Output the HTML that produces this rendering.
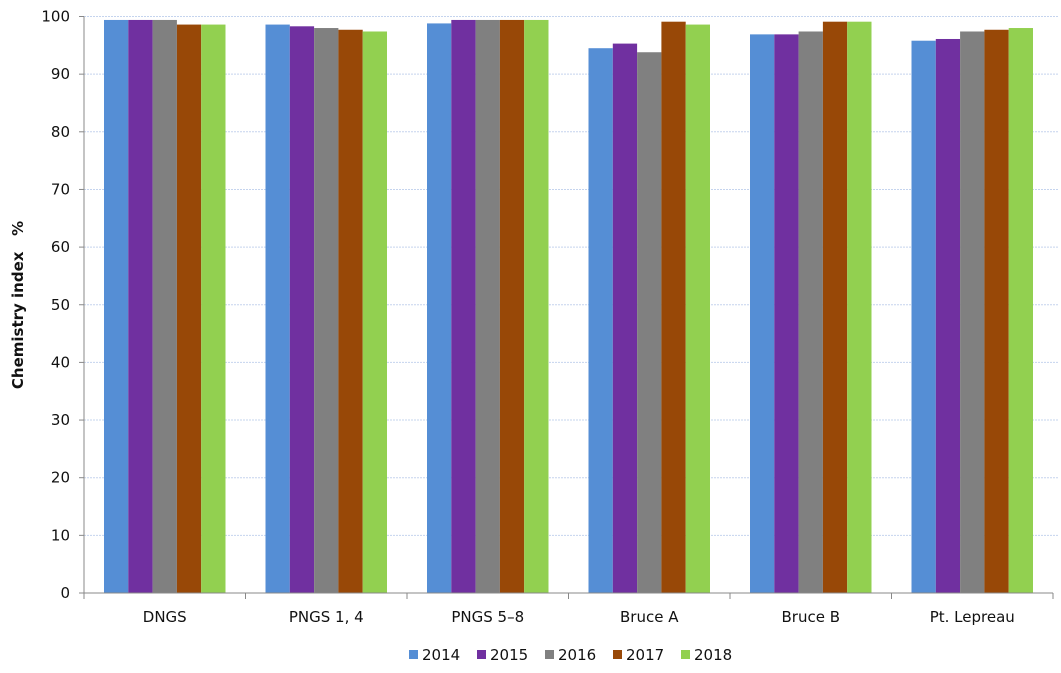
<!DOCTYPE html>
<html><head><meta charset="utf-8"><style>
body{margin:0;background:#fff;}
svg text{font-family:"DejaVu Sans","Liberation Sans",sans-serif;fill:#111;}
</style></head><body>
<svg width="1061" height="668" xmlns="http://www.w3.org/2000/svg">
<g id="grid"></g>
<g id="bars"></g>
<g id="axes"></g>
<text transform="translate(23,305) rotate(-90)" text-anchor="middle" font-size="15" font-weight="bold">Chemistry index&#160;&#160;&#160;%</text>
<g id="legend"></g>
</svg>
<script>
const categories=["DNGS","PNGS 1, 4","PNGS 5–8","Bruce A","Bruce B","Pt. Lepreau"];
const years=["2014","2015","2016","2017","2018"];
const s2014=[99.4,98.6,98.8,94.5,96.9,95.8];
const s2015=[99.4,98.3,99.4,95.3,96.9,96.1];
const s2016=[99.4,98.0,99.4,93.8,97.4,97.4];
const s2017=[98.6,97.7,99.4,99.1,99.1,97.7];
const s2018=[98.6,97.4,99.4,98.6,99.1,98.0];
const yTicks=[0,10,20,30,40,50,60,70,80,90,100];
const series=[s2014,s2015,s2016,s2017,s2018];
const colors=["#558ed5","#7030a0","#808080","#984807","#92d050"];
const NS="http://www.w3.org/2000/svg";
const x0=84,x1=1053,yBase=593,yTop=16.5;
const y=v=>yBase-(v/100)*(yBase-yTop);
const gw=(x1-x0)/categories.length;
function mk(t,a,p){const e=document.createElementNS(NS,t);for(const k in a)e.setAttribute(k,a[k]);p.appendChild(e);return e;}
const grid=document.getElementById('grid'),bars=document.getElementById('bars'),axes=document.getElementById('axes'),legend=document.getElementById('legend');
yTicks.forEach(t=>{
 if(t>0){const l=mk('line',{x1:x0,x2:1058,y1:y(t),y2:y(t),stroke:'#c5d4ee','stroke-width':1,'stroke-dasharray':'2,1'},grid);
 
 }
 const tk=mk('line',{x1:x0-5,x2:x0,y1:y(t),y2:y(t),stroke:'#888'},axes);
 
 
 const tx=mk('text',{x:x0-14,y:y(t)+5,'text-anchor':'end','font-size':15},axes);tx.textContent=t;
 
 
});
const bw=(gw-40)/years.length;
categories.forEach((c,i)=>{
 series.forEach((s,j)=>{
  const r=mk('rect',{x:x0+i*gw+20+j*bw,y:y(s[i]),width:bw,height:yBase-y(s[i]),fill:colors[j]},bars);
  
  
 });
 const tx=mk('text',{x:x0+(i+0.5)*gw,y:622,'text-anchor':'middle','font-size':15},axes);tx.textContent=c;
 
 
});
for(let i=0;i<=categories.length;i++){const t=mk('line',{x1:x0+i*gw,x2:x0+i*gw,y1:yBase,y2:yBase+6,stroke:'#888'},axes);
 
 }
const ya=mk('line',{x1:x0,x2:x0,y1:yTop,y2:yBase,stroke:'#888'},axes);


const xa=mk('line',{x1:x0,x2:x1,y1:yBase,y2:yBase,stroke:'#888'},axes);


years.forEach((yr,j)=>{
 const lx=409+j*68;
 const g=mk('g',{},legend);
 
 
 mk('rect',{x:lx,y:650,width:9,height:9,fill:colors[j]},g);
 const t=mk('text',{x:lx+13,y:660,'font-size':15},g);t.textContent=yr;
});
</script>
</body></html>
